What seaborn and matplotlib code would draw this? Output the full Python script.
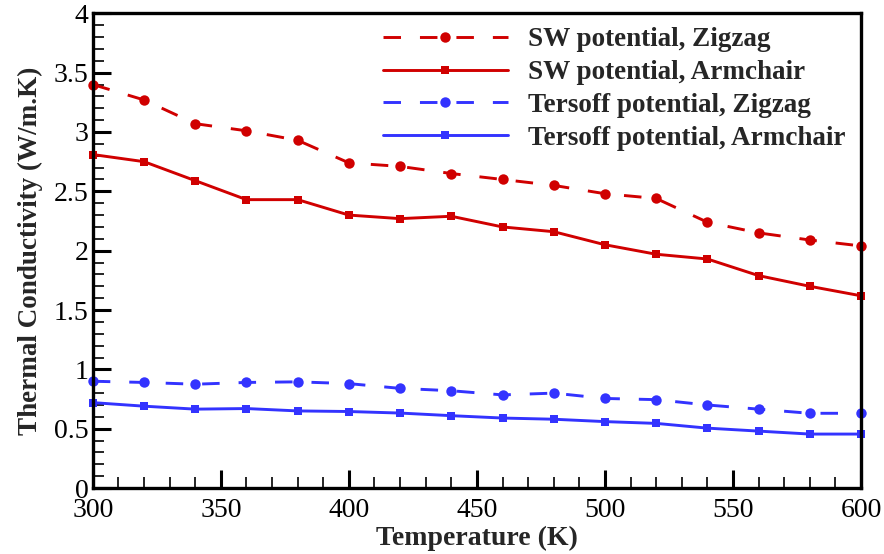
import numpy as np
import pandas as pd
import matplotlib
matplotlib.use("Agg")
import matplotlib.pyplot as plt
import seaborn as sns
from matplotlib.ticker import MultipleLocator

temperature = [300, 320, 340, 360, 380, 400, 420, 440, 460, 480, 500, 520, 540, 560, 580, 600]
sw_zigzag = [3.40, 3.27, 3.07, 3.01, 2.93, 2.74, 2.71, 2.65, 2.60, 2.55, 2.48, 2.44, 2.24, 2.15, 2.09, 2.04]
sw_armchair = [2.81, 2.75, 2.59, 2.43, 2.43, 2.30, 2.27, 2.29, 2.20, 2.16, 2.05, 1.97, 1.93, 1.79, 1.70, 1.62]
tersoff_zigzag = [0.90, 0.89, 0.875, 0.89, 0.895, 0.88, 0.84, 0.82, 0.785, 0.80, 0.755, 0.745, 0.70, 0.665, 0.63, 0.63]
tersoff_armchair = [0.72, 0.69, 0.665, 0.67, 0.65, 0.645, 0.632, 0.61, 0.59, 0.58, 0.56, 0.545, 0.505, 0.48, 0.455, 0.455]

series_names = ["SW potential, Zigzag", "SW potential, Armchair",
                "Tersoff potential, Zigzag", "Tersoff potential, Armchair"]
series_values = [sw_zigzag, sw_armchair, tersoff_zigzag, tersoff_armchair]

sns.set_theme(style="white")
plt.rcParams['font.family'] = ['Liberation Serif', 'DejaVu Serif']

fig, ax = plt.subplots(figsize=(8.84, 5.54), dpi=100)
fig.subplots_adjust(left=0.105, right=0.974, top=0.976, bottom=0.119)

red = "#D00000"
blue = "#3333FF"
styles = [
    dict(color=red, marker="o", dashes=(6, 6.5), ms=7.5),
    dict(color=red, marker="s", dashes=None, ms=5.5),
    dict(color=blue, marker="o", dashes=(6, 6.5), ms=7.5),
    dict(color=blue, marker="s", dashes=None, ms=5.5),
]

for name, vals, st in zip(series_names, series_values, styles):
    df = pd.DataFrame({"T": temperature, "k": vals})
    line_kw = dict(color=st["color"], marker=st["marker"], markersize=st["ms"],
                   markeredgewidth=0, linewidth=2.1, label=name, clip_on=False)
    sns.lineplot(data=df, x="T", y="k", ax=ax, **line_kw)
    if st["dashes"] is not None:
        ax.lines[-1].set_dashes(st["dashes"])

ax.set_xlim(300, 600)
ax.set_ylim(0, 4)
ax.xaxis.set_major_locator(MultipleLocator(50))
ax.xaxis.set_minor_locator(MultipleLocator(10))
ax.yaxis.set_minor_locator(MultipleLocator(0.1))
ax.set_yticks([0, 0.5, 1, 1.5, 2, 2.5, 3, 3.5, 4])
ax.set_yticklabels(["0", "0.5", "1", "1.5", "2", "2.5", "3", "3.5", "4"])

ax.tick_params(which="both", direction="in", top=False, right=False,
               left=True, bottom=True, labelsize=20, colors="black")
ax.tick_params(axis="x", which="major", pad=7)
ax.tick_params(axis="y", which="major", pad=3)
ax.tick_params(which="major", length=13, width=2.2)
ax.tick_params(which="minor", length=8, width=1.2)

for sp in ax.spines.values():
    sp.set_linewidth(2.4)
    sp.set_color("black")

ax.set_xlabel("Temperature (K)", fontsize=20, fontweight="bold", labelpad=2)
ax.set_ylabel("Thermal Conductivity (W/m.K)", fontsize=19.5, fontweight="bold", labelpad=8)
ax.grid(False)

leg = ax.legend(loc="upper right", frameon=False,
                prop={"weight": "bold", "size": 19.5}, handlelength=4.6,
                handletextpad=0.75, labelspacing=0.29, borderaxespad=0.2,
                bbox_to_anchor=(1.001, 1.005))

fig.savefig("out.png", dpi=100, facecolor="white")
